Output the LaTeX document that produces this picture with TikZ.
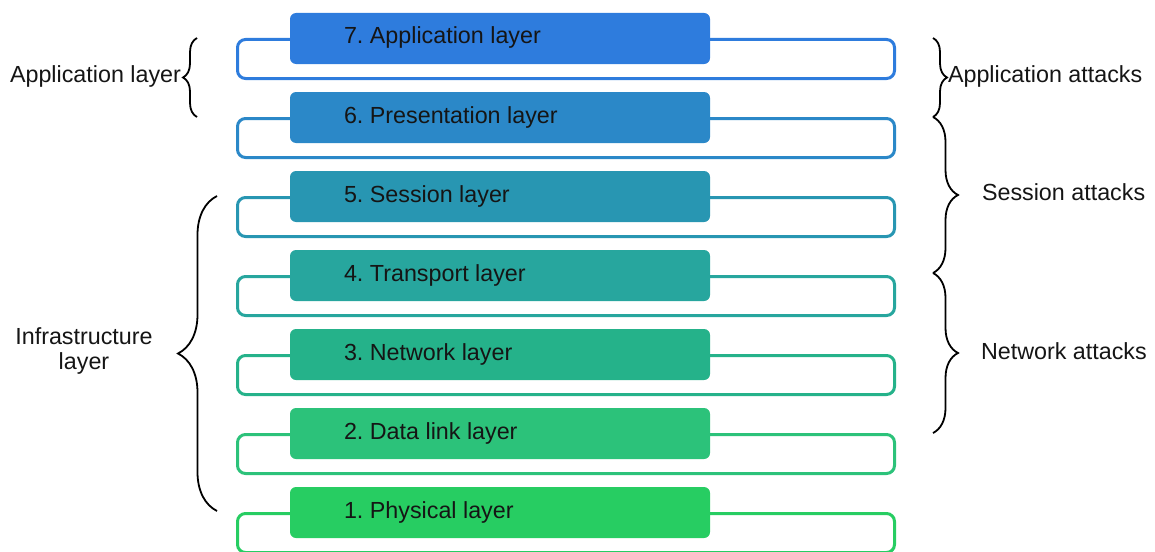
\documentclass[tikz,border=0pt]{standalone}
\usepackage{fontspec}
\setmainfont{Liberation Sans}
\usetikzlibrary{decorations.pathreplacing}
\definecolor{c7}{HTML}{2E7CDD}
\definecolor{c6}{HTML}{2B88C8}
\definecolor{c5}{HTML}{2896B2}
\definecolor{c4}{HTML}{27A69E}
\definecolor{c3}{HTML}{25B28A}
\definecolor{c2}{HTML}{2CC27A}
\definecolor{c1}{HTML}{27CD62}
\definecolor{txt}{HTML}{151515}
\tikzset{
  layerbox/.style={rectangle, rounded corners=6pt, minimum width=420pt, minimum height=51pt,
    inner sep=0pt, outer sep=0pt, anchor=north west, fill=#1},
  layerframe/.style={rectangle, rounded corners=8pt, line width=3pt, minimum width=657pt,
    minimum height=39pt, inner sep=0pt, outer sep=0pt, anchor=north west, draw=#1},
  lbl/.style={font=\frenchspacing\fontsize{23.3}{25}\selectfont, inner sep=0pt, outer sep=0pt, text=txt},
  bracedeco/.style={decorate, decoration={brace, amplitude=#1}, line width=1.8pt, draw=black},
}
\begin{document}
\frenchspacing
\begin{tikzpicture}[x=1pt,y=-1pt]
\useasboundingbox (0,0) rectangle (1155,551);
\foreach \k/\txt/\col in {7/7. Application layer/c7, 6/6. Presentation layer/c6,
   5/5. Session layer/c5, 4/4. Transport layer/c4, 3/3. Network layer/c3,
   2/2. Data link layer/c2, 1/1. Physical layer/c1}{
  \pgfmathsetmacro{\top}{13+79*(7-\k)}
  \node[layerframe=\col] (frm\k) at (237.5,\top+26.5) {};
  \node[layerbox=\col] (box\k) at (290,\top) {};
  \node[lbl, anchor=base west] (lbl\k) at (344,\top+31) {\txt};
}
% left side
\coordinate (la1) at (197,117);
\coordinate (la2) at (197,38);
\draw[bracedeco=14] (la1) -- (la2);
\node[lbl, anchor=base east] (appl) at (181,82) {Application layer};
\coordinate (in1) at (217,511);
\coordinate (in2) at (217,196);
\draw[bracedeco=39] (in1) -- (in2);
\node[lbl, anchor=base, align=center] (infra) at (84,369) {Infrastructure\\layer};
% right side
\coordinate (r1) at (933,38);
\coordinate (r2) at (933,117);
\coordinate (r3) at (933,273);
\coordinate (r4) at (933,433);
\draw[bracedeco=14] (r1) -- (r2);
\draw[bracedeco=25] (r2) -- (r3);
\draw[bracedeco=25] (r3) -- (r4);
\node[lbl, anchor=base west] (appatt) at (948,82) {Application attacks};
\node[lbl, anchor=base west] (sesatt) at (982,200) {Session attacks};
\node[lbl, anchor=base west] (netatt) at (981,359) {Network attacks};
\end{tikzpicture}
\end{document}
